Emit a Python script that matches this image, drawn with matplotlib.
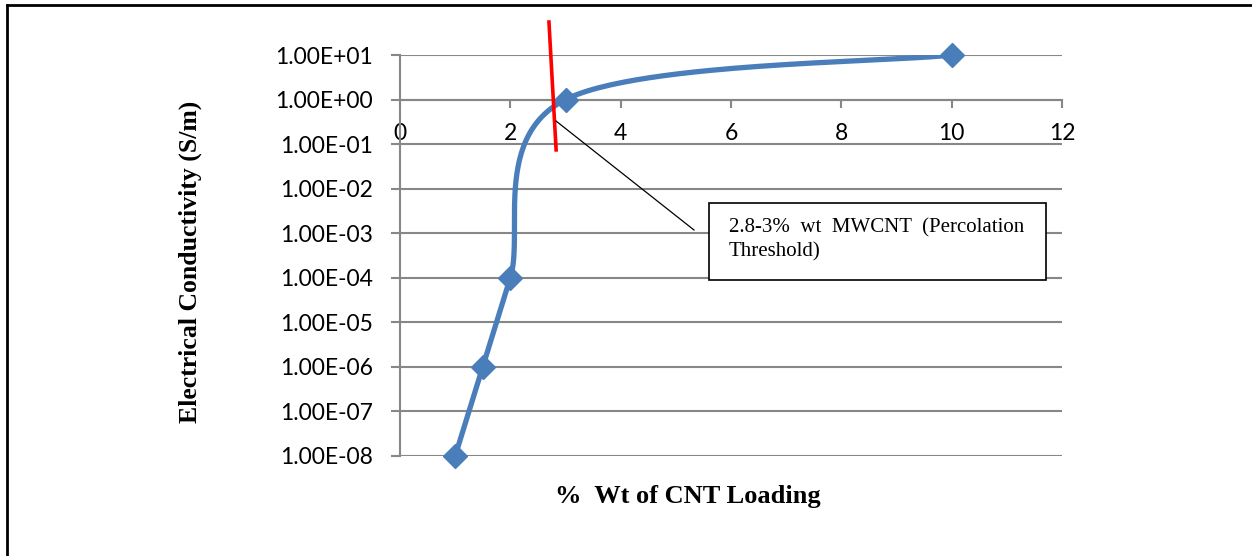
import numpy as np
import matplotlib
matplotlib.use("Agg")
import matplotlib.pyplot as plt
from matplotlib.lines import Line2D
from matplotlib.patches import Rectangle

# ---- data ----
cnt_loading = [1.0, 1.5, 2.0, 3.0, 10.0]
conductivity = [1e-8, 1e-6, 1e-4, 1e0, 1e1]
ytick_values = [1e-8, 1e-7, 1e-6, 1e-5, 1e-4, 1e-3, 1e-2, 1e-1, 1e0, 1e1]
ytick_labels = ["1.00E-08", "1.00E-07", "1.00E-06", "1.00E-05", "1.00E-04",
                "1.00E-03", "1.00E-02", "1.00E-01", "1.00E+00", "1.00E+01"]
xtick_values = [0, 2, 4, 6, 8, 10, 12]
xtick_labels = ["0", "2", "4", "6", "8", "10", "12"]
threshold_line_x = [2.70, 2.83]
threshold_line_y = [10 ** 1.74, 10 ** -1.13]
annotation_text = "2.8-3%  wt  MWCNT  (Percolation\nThreshold)"

BLUE = "#4A7EBB"
GRID = "#878787"
TICKFONT = "Lato"
SERIF = "Liberation Serif"


def smooth_curve(xs, ys_log, n=60):
    """Excel-like smoothed line: Catmull-Rom Bezier through the points."""
    P = np.column_stack([xs, ys_log]).astype(float)
    out = []
    for i in range(len(P) - 1):
        p0 = P[i - 1] if i > 0 else P[i]
        p1 = P[i]
        p2 = P[i + 1]
        p3 = P[i + 2] if i + 2 < len(P) else P[i + 1]
        c1 = p1 + (p2 - p0) / 6.0
        c2 = p2 - (p3 - p1) / 6.0
        t = np.linspace(0, 1, n)[:, None]
        seg = ((1 - t) ** 3) * p1 + 3 * ((1 - t) ** 2) * t * c1 + 3 * (1 - t) * t ** 2 * c2 + t ** 3 * p2
        out.append(seg if i == 0 else seg[1:])
    out = np.vstack(out)
    return out[:, 0], 10 ** out[:, 1]


fig = plt.figure(figsize=(12.52, 5.56), dpi=100)
ax = fig.add_axes([400 / 1252, 1 - 456 / 556, 662 / 1252, 401 / 556])

ax.set_yscale("log")
ax.set_xlim(0, 12)
ax.set_ylim(1e-8, 1e1)

sx, sy = smooth_curve(cnt_loading, np.log10(conductivity))
ax.plot(sx, sy, color=BLUE, lw=3.8, solid_capstyle="round", zorder=4)
ax.plot(cnt_loading, conductivity, linestyle="none", marker="D", ms=12,
        color=BLUE, mec=BLUE, zorder=5, clip_on=False)

# grid
ax.set_yticks(ytick_values)
ax.set_yticklabels(ytick_labels)
ax.yaxis.set_minor_locator(matplotlib.ticker.NullLocator())
ax.grid(True, axis="y", color=GRID, lw=1.5)
ax.set_axisbelow(True)

ax.set_xticks(xtick_values)
ax.set_xticklabels(xtick_labels)

for s in ["top", "right"]:
    ax.spines[s].set_visible(False)
ax.spines["bottom"].set_position(("data", 1.0))
ax.spines["bottom"].set_color(GRID)
ax.spines["bottom"].set_linewidth(1.5)
ax.spines["left"].set_color(GRID)
ax.spines["left"].set_linewidth(1.5)

ax.tick_params(axis="y", which="major", direction="out", length=6.5, width=1.5,
               color=GRID, pad=13, labelsize=16.5)
ax.tick_params(axis="x", which="major", direction="out", length=6, width=1.5,
               color=GRID, pad=11, labelsize=16.5)
for lab in ax.get_xticklabels() + ax.get_yticklabels():
    lab.set_fontfamily(TICKFONT)

# red threshold line
ax.plot(threshold_line_x, threshold_line_y, color="#FF0000", lw=2.6,
        clip_on=False, zorder=6)

# callout line and box
fig.add_artist(Line2D([556 / 1252, 694 / 1252], [1 - 121 / 556, 1 - 230 / 556],
                      color="black", lw=0.9))
fig.add_artist(Rectangle((709 / 1252, 1 - 280 / 556), 337 / 1252, 77 / 556,
                         transform=fig.transFigure, fill=True, facecolor="white",
                         edgecolor="black", lw=1.2, zorder=7))
fig.text(729 / 1252, 1 - 218 / 556, annotation_text, family=SERIF, fontsize=15,
         ha="left", va="top", linespacing=1.35, zorder=8)

# axis titles
fig.text(190 / 1252, 1 - 262 / 556, "Electrical Conductivity (S/m)", family=SERIF,
         fontweight="bold", fontsize=18.5, rotation=90, ha="center", va="center")
fig.text(688 / 1252, 1 - 496 / 556, "%  Wt of CNT Loading", family=SERIF,
         fontweight="bold", fontsize=19, ha="center", va="center")

# outer frame (top and left visible)
fig.add_artist(Line2D([7 / 1252, 1.0], [1 - 5 / 556, 1 - 5 / 556], color="black", lw=2))
fig.add_artist(Line2D([7 / 1252, 7 / 1252], [0, 1 - 5 / 556], color="black", lw=2))

fig.savefig("out.png", dpi=100)
